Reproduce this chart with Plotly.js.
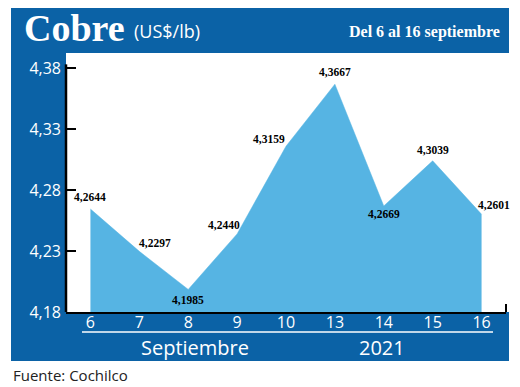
<!DOCTYPE html>
<html>
<head>
<meta charset="utf-8">
<script src="https://cdn.plot.ly/plotly-3.0.1.min.js"></script>
<style>html,body{margin:0;padding:0;background:#fff;}#chart{width:520px;height:387px;}</style>
</head>
<body>
<div id="chart"></div>
<script>
// ---- data ----
const days = ["6", "7", "8", "9", "10", "13", "14", "15", "16"];
const prices = [4.2644, 4.2297, 4.1985, 4.2440, 4.3159, 4.3667, 4.2669, 4.3039, 4.2601];
const priceLabels = ["4,2644", "4,2297", "4,1985", "4,2440", "4,3159", "4,3667", "4,2669", "4,3039", "4,2601"];
const yTickVals = [4.18, 4.23, 4.28, 4.33, 4.38];
const yTickText = ["4,18", "4,23", "4,28", "4,33", "4,38"];

// ---- layout helpers (pixel -> paper) ----
const L = 66, R = 506, T = 53, B = 312;
const px = x => (x - L) / (R - L);
const py = y => (B - y) / (B - T);

const BLUE = "#0b62a6";
const FILL = "#56b4e3";

// label offsets (pixels) per point
const labelShift = [[0, 12], [16, 8], [0, -11], [-13, 9], [-17, 7], [0, 12], [0, -8], [0, 11], [12, 9]];

const annotations = prices.map((v, i) => ({
  x: i, y: v, xref: "x", yref: "y",
  text: priceLabels[i], showarrow: false,
  xshift: labelShift[i][0], yshift: labelShift[i][1],
  font: {family: "Liberation Serif, serif", size: 11.5, color: "#000", weight: "bold"}
}));

annotations.push(
  {xref: "paper", yref: "paper", x: px(22), y: py(28), xanchor: "left", yanchor: "middle", showarrow: false,
   text: "<b>Cobre</b>", font: {family: "Liberation Serif, serif", size: 38, color: "#fff"}},
  {xref: "paper", yref: "paper", x: px(132), y: py(31), xanchor: "left", yanchor: "middle", showarrow: false,
   text: "(US$/lb)", font: {family: "Open Sans, sans-serif", size: 18, color: "#fff"}},
  {xref: "paper", yref: "paper", x: px(502), y: py(32), xanchor: "right", yanchor: "middle", showarrow: false,
   text: "<b>Del 6 al 16 septiembre</b>", font: {family: "Liberation Serif, serif", size: 16, color: "#fff"}},
  {xref: "paper", yref: "paper", x: px(195), y: py(347), xanchor: "center", yanchor: "middle", showarrow: false,
   text: "Septiembre", font: {family: "Open Sans, sans-serif", size: 20, color: "#fff"}},
  {xref: "paper", yref: "paper", x: px(382), y: py(347), xanchor: "center", yanchor: "middle", showarrow: false,
   text: "2021", font: {family: "Open Sans, sans-serif", size: 20, color: "#fff"}},
  {xref: "paper", yref: "paper", x: px(11), y: py(375), xanchor: "left", yanchor: "middle", showarrow: false,
   text: "Fuente: Cochilco", font: {family: "Open Sans, sans-serif", size: 15, color: "#222"}}
);

const shapes = [
  // blue panel
  {type: "rect", xref: "paper", yref: "paper", x0: px(11), x1: px(509), y0: py(8), y1: py(361),
   fillcolor: BLUE, line: {width: 0}, layer: "below"},
  // white plot area
  {type: "rect", xref: "paper", yref: "paper", x0: px(66), x1: px(509), y0: py(53), y1: py(312),
   fillcolor: "#fff", line: {width: 0}, layer: "below"},
  // y axis line
  {type: "line", xref: "paper", yref: "y", x0: 0, x1: 0, y0: yTickVals[0], y1: yTickVals[yTickVals.length - 1] + 0.003,
   line: {color: "#000", width: 2.5}},
  // right end tick of x axis
  {type: "line", xref: "paper", yref: "paper", x0: 1, x1: 1, y0: 0, y1: py(304),
   line: {color: "#000", width: 2}},
  // white separator line
  {type: "line", xref: "paper", yref: "paper", x0: px(82), x1: px(493), y0: py(332), y1: py(332),
   line: {color: "#fff", width: 1.5}}
];

const trace = {
  type: "scatter", mode: "lines", x: days, y: prices,
  fill: "tozeroy", fillcolor: FILL,
  line: {color: FILL, width: 0.5}, hoverinfo: "skip"
};

const layout = {
  width: 520, height: 387,
  margin: {l: L, r: 520 - R, t: T, b: 387 - B, pad: 0},
  paper_bgcolor: "#fff", plot_bgcolor: "rgba(0,0,0,0)",
  showlegend: false,
  xaxis: {
    type: "category", range: [-0.5, days.length - 0.5],
    showgrid: false, zeroline: false,
    showline: true, linecolor: "#000", linewidth: 2,
    ticks: "", ticklabelstandoff: -5,
    tickfont: {family: "Open Sans, sans-serif", size: 16, color: "#fff"}
  },
  yaxis: {
    range: [4.18, 4.3923], showgrid: false, zeroline: false, showline: false,
    tickvals: yTickVals, ticktext: yTickText,
    ticks: "inside", ticklen: 10, tickwidth: 2.5, tickcolor: "#000",
    ticklabelstandoff: 4,
    tickfont: {family: "Open Sans, sans-serif", size: 16, color: "#fff"}
  },
  shapes: shapes,
  annotations: annotations
};

Plotly.newPlot("chart", [trace], layout, {displayModeBar: false, staticPlot: true});
</script>
</body>
</html>
